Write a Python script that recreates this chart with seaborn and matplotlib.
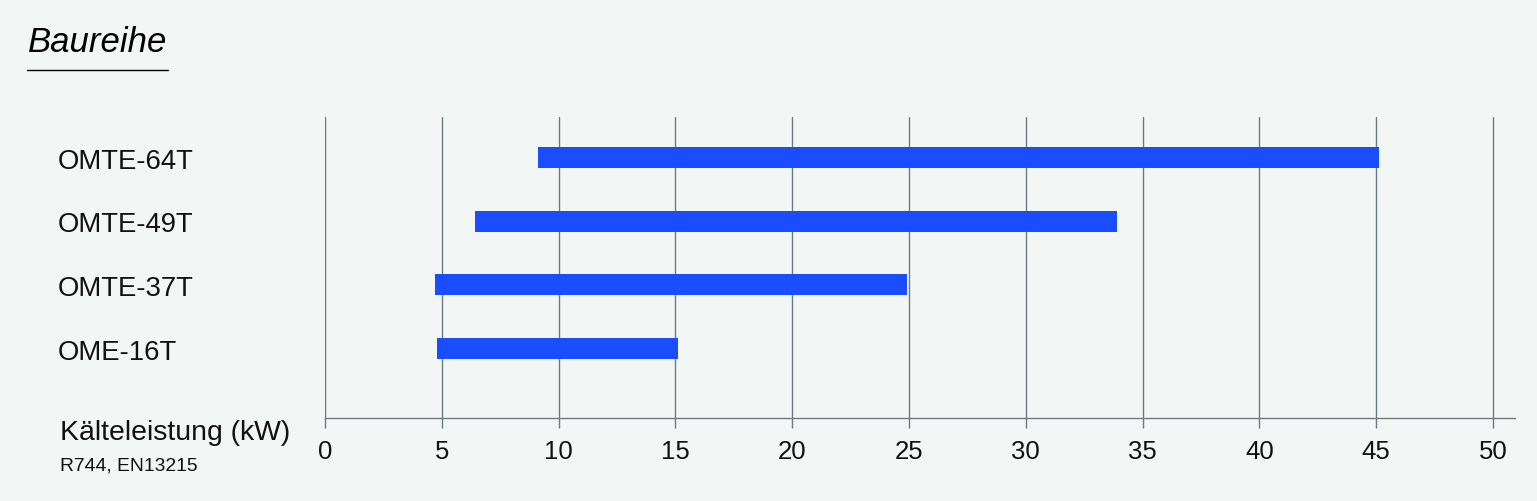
import matplotlib
matplotlib.use("Agg")
import matplotlib.pyplot as plt
import seaborn as sns

# series range (kW) per model
models = ["OMTE-64T", "OMTE-49T", "OMTE-37T", "OME-16T"]
range_min = [9.1, 6.4, 4.7, 4.8]
range_max = [45.1, 33.9, 24.9, 15.1]
x_ticks = [0, 5, 10, 15, 20, 25, 30, 35, 40, 45, 50]

BG = "#f2f6f5"
BAR = "#1a4dff"
GRID = "#6b7c7c"
TEXT = "#111111"

sns.set_theme(style="white")
plt.rcParams["font.family"] = ["Liberation Sans", "DejaVu Sans"]

fig = plt.figure(figsize=(15.37, 5.02), dpi=100, facecolor=BG)
W, H = 1537, 502
ax = fig.add_axes([325 / W, 1 - 419 / H, (1515 - 325) / W, (419 - 118) / H])
ax.set_facecolor(BG)

widths = [hi - lo for lo, hi in zip(range_min, range_max)]
sns.barplot(x=widths, y=models, left=range_min, color=BAR, width=0.33,
            errorbar=None, saturation=1, linewidth=0, ax=ax, zorder=3)

ax.set_xlim(0, 50.94)
ax.set_ylim(4.09, -0.636)
ax.set_xticks(x_ticks)
ax.set_xticklabels([str(t) for t in x_ticks])
for t in x_ticks:
    ax.axvline(t, color=GRID, lw=1.0, zorder=1)

for s in ["top", "right", "left"]:
    ax.spines[s].set_visible(False)
ax.spines["bottom"].set_color(GRID)
ax.spines["bottom"].set_linewidth(1.0)

ax.tick_params(axis="x", length=7.2, width=1.0, color=GRID, pad=8,
               labelsize=18.5, labelcolor=TEXT, bottom=True)
ax.tick_params(axis="y", length=0, pad=(325 - 58) * 0.72, labelsize=19.8,
               labelcolor=TEXT)
for lbl in ax.get_yticklabels():
    lbl.set_horizontalalignment("left")
ax.set_xlabel("")
ax.set_ylabel("")

fig.text(60 / W, 1 - 440 / H, "Kälteleistung (kW)", fontsize=20.4, color=TEXT,
         ha="left", va="baseline")
fig.text(60 / W, 1 - 470.5 / H, "R744, EN13215", fontsize=13.9, color=TEXT,
         ha="left", va="baseline")

fig.text(28 / W, 1 - 51.7 / H, "Baureihe", fontsize=25, style="italic",
         color="black", ha="left", va="baseline")
fig.add_artist(plt.Line2D([27 / W, 168 / W], [1 - 71 / H, 1 - 71 / H],
                          color="black", lw=1.0))

fig.savefig("out.png", dpi=100, facecolor=BG)
